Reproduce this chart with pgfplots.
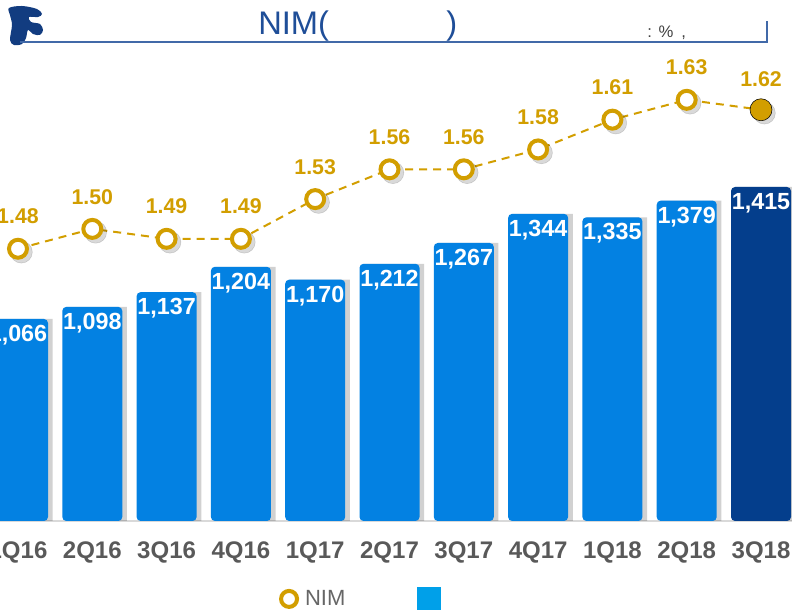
\documentclass[border=0pt]{standalone}
\usepackage{pgfplots}
\pgfplotsset{compat=1.18}
\usepackage{pgfplotstable}
\usepackage{fontspec}
\setmainfont{Liberation Sans}
\definecolor{barblue}{RGB}{3,129,226}
\definecolor{navybar}{RGB}{4,62,140}
\definecolor{gold}{RGB}{210,158,0}
\definecolor{tickgray}{RGB}{89,89,89}
\definecolor{titleblue}{RGB}{31,78,152}
\definecolor{logoblue}{RGB}{18,60,128}
\definecolor{legblue}{RGB}{0,160,233}

\pgfplotstableread{
idx q inc inclab nim nimlab
0 1Q16 1066 1,066 1.48 1.48
1 2Q16 1098 1,098 1.50 1.50
2 3Q16 1137 1,137 1.49 1.49
3 4Q16 1204 1,204 1.49 1.49
4 1Q17 1170 1,170 1.53 1.53
5 2Q17 1212 1,212 1.56 1.56
6 3Q17 1267 1,267 1.56 1.56
7 4Q17 1344 1,344 1.58 1.58
8 1Q18 1335 1,335 1.61 1.61
9 2Q18 1379 1,379 1.63 1.63
10 3Q18 1415 1,415 1.62 1.62
}\data

\begin{document}
\begin{tikzpicture}[x=0.75pt,y=0.75pt]
\useasboundingbox (0,0) rectangle (792,610);

% header
\fill[logoblue] plot[smooth cycle, tension=0.55] coordinates {(9,602) (22,604) (37,601) (42,596) (38,593) (29,593) (31,588) (40,586) (43,580) (40,575) (33,576) (28,580) (26,572) (22,566) (14,565) (10,570) (12,585) (10,595)};
\node[text=titleblue, font=\fontsize{24.5}{24.5}\selectfont, anchor=base west, inner sep=0pt] at (258,575) {NIM(\hspace{88pt})};
\node[text=black!75, font=\fontsize{12.5}{12.5}\selectfont, anchor=base west, inner sep=0pt] at (647,572) {:\hspace{5pt}\%\hspace{6pt},};
\draw[titleblue!85, line width=1.5pt] (20,568) -- (767,568) -- (767,589);

% bars
\begin{axis}[at={(0pt,66.75pt)}, anchor=south west, scale only axis,
  width=594pt, height=345.75pt,
  xmin=-0.2423, xmax=10.4172, ymin=531.9, ymax=1750.8,
  ybar, bar width=45pt, bar shift=0pt,
  axis y line=none, axis x line*=bottom,
  x axis line style={draw=black!15, line width=1.5pt, -},
  xtick={0,...,10},
  xticklabels={1Q16,2Q16,3Q16,4Q16,1Q17,2Q17,3Q17,4Q17,1Q18,2Q18,3Q18},
  major tick length=0pt,
  xticklabel style={font=\fontsize{18}{18}\selectfont\bfseries, text=tickgray, anchor=north, inner sep=0pt, yshift=-15pt},
]
\addplot[fill=black, opacity=0.18, draw=none, bar shift=3.5pt, forget plot] table[x=idx,y=inc]{\data};
\addplot[fill=barblue, draw=none, rounded corners=3pt,
  nodes near coords, point meta=explicit symbolic,
  nodes near coords style={font=\fontsize{17.5}{17.5}\selectfont\bfseries, text=white, anchor=north, inner sep=0pt, yshift=-4.5pt}]
  table[x=idx,y=inc,meta=inclab, restrict x to domain=0:9]{\data};
\addplot[fill=navybar, draw=none, rounded corners=3pt,
  nodes near coords, point meta=explicit symbolic,
  nodes near coords style={font=\fontsize{17.5}{17.5}\selectfont\bfseries, text=white, anchor=north, inner sep=0pt, yshift=-4.5pt}]
  table[x=idx,y=inc,meta=inclab, restrict x to domain=10:10]{\data};
\end{axis}

% NIM line
\begin{axis}[at={(0pt,66.75pt)}, anchor=south west, scale only axis,
  width=594pt, height=345.75pt,
  xmin=-0.2423, xmax=10.4172, ymin=1.2058, ymax=1.6701,
  hide axis,
  legend style={at={(0.352,-0.169)}, anchor=west, draw=none, fill=none, inner sep=0pt,
    font=\fontsize{16.5}{16.5}\selectfont, text=black!60, legend columns=-1,
    /tikz/every even column/.append style={column sep=52pt}},
]
\addplot[forget plot, only marks, mark=*, mark size=8.25pt, draw=none, fill=black, opacity=0.15,
  mark options={xshift=2.5pt, yshift=-2.5pt}] table[x=idx,y=nim]{\data};
\addplot[forget plot, gold, line width=1.5pt, dash pattern=on 6pt off 4.5pt] table[x=idx,y=nim]{\data};
\addplot[forget plot, only marks, mark=*, mark size=6.75pt, mark options={fill=white, draw=gold, line width=3pt},
  nodes near coords, point meta=explicit symbolic,
  nodes near coords style={font=\fontsize{16}{16}\selectfont\bfseries, text=gold, anchor=south, inner sep=0pt, yshift=17pt}]
  table[x=idx,y=nim,meta=nimlab, restrict x to domain=0:9]{\data};
\addplot[forget plot, only marks, mark=*, mark size=8.25pt, mark options={fill=gold, draw=none},
  nodes near coords, point meta=explicit symbolic,
  nodes near coords style={font=\fontsize{16}{16}\selectfont\bfseries, text=gold, anchor=south, inner sep=0pt, yshift=17pt}]
  table[x=idx,y=nim,meta=nimlab, restrict x to domain=10:10]{\data};
\addlegendimage{legend image code/.code={\draw[gold, line width=3pt, fill=white] (6pt,0pt) circle (6pt);}}
\addlegendentry{\hspace{2.5pt}NIM}
\addlegendimage{legend image code/.code={\fill[legblue] (0pt,-8.6pt) rectangle (17.2pt,8.6pt);}}
\addlegendentry{\hspace{40pt}}
\end{axis}
\end{tikzpicture}
\end{document}
